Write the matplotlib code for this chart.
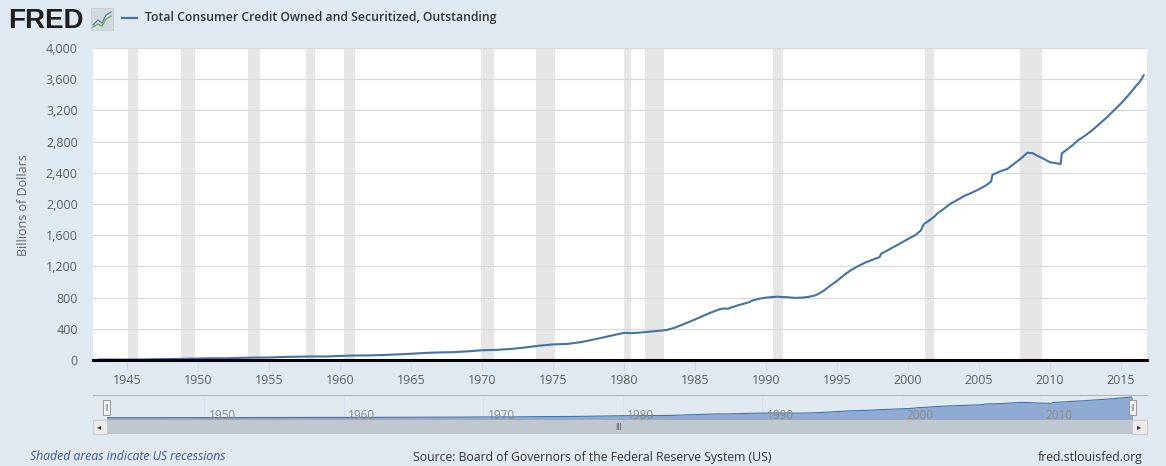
import matplotlib
matplotlib.use("Agg")
import matplotlib.pyplot as plt
from matplotlib.patches import Rectangle
from matplotlib.lines import Line2D
from matplotlib.ticker import FuncFormatter

# decimal year / billions of dollars
years = [1943.0, 1944.0, 1945.0, 1946.0, 1947.0, 1948.0, 1949.0, 1950.0, 1951.0, 1952.0,
         1953.0, 1954.0, 1955.0, 1956.0, 1957.0, 1958.0, 1959.0, 1960.0, 1961.0, 1962.0,
         1963.0, 1964.0, 1965.0, 1966.0, 1967.0, 1968.0, 1969.0, 1970.0, 1971.0, 1972.0,
         1973.0, 1974.0, 1975.0, 1976.0, 1977.0, 1978.0, 1979.0, 1980.0, 1980.5, 1981.0,
         1982.0, 1983.0, 1983.5, 1984.0, 1985.0, 1986.0, 1986.75, 1987.0, 1987.3, 1988.0,
         1988.8, 1989.0, 1989.5, 1990.0, 1990.8, 1991.0, 1991.5, 1992.0, 1992.6, 1993.0,
         1993.5, 1994.0, 1994.5, 1995.0, 1995.5, 1996.0, 1996.5, 1997.0, 1997.5, 1998.0,
         1998.1, 1998.5, 1999.0, 1999.5, 2000.0, 2000.5, 2000.9, 2001.1, 2001.5, 2001.9,
         2002.0, 2002.5, 2003.0, 2003.5, 2004.0, 2004.5, 2005.0, 2005.5, 2005.85, 2005.95,
         2006.2, 2006.5, 2007.0, 2007.5, 2008.0, 2008.4, 2008.8, 2009.0, 2009.5, 2010.0,
         2010.5, 2010.75, 2010.83, 2011.0, 2011.5, 2012.0, 2012.5, 2013.0, 2013.5, 2014.0,
         2014.5, 2015.0, 2015.5, 2016.0, 2016.1, 2016.3, 2016.6]
credit = [6.2, 5.4, 5.7, 6.4, 9.3, 12.5, 15.2, 18.9, 22.4, 22.3,
          27.5, 31.0, 31.6, 38.8, 42.3, 45.4, 45.0, 52.0, 57.5, 58.7,
          64.0, 71.2, 80.0, 90.4, 97.2, 100.6, 111.0, 125.0, 130.0, 141.0,
          160.0, 183.0, 200.0, 206.0, 230.0, 268.0, 308.0, 348.0, 344.0, 350.0,
          366.0, 385.0, 410.0, 445.0, 520.0, 600.0, 652.0, 660.0, 657.0, 700.0,
          740.0, 760.0, 785.0, 800.0, 812.0, 808.0, 805.0, 797.0, 800.0, 810.0,
          830.0, 880.0, 950.0, 1015.0, 1090.0, 1155.0, 1205.0, 1250.0, 1285.0, 1320.0,
          1362.0, 1400.0, 1450.0, 1500.0, 1551.0, 1600.0, 1660.0, 1740.0, 1790.0, 1845.0,
          1870.0, 1935.0, 2005.0, 2055.0, 2107.0, 2145.0, 2190.0, 2240.0, 2288.0, 2375.0,
          2395.0, 2420.0, 2450.0, 2520.0, 2590.0, 2658.0, 2650.0, 2628.0, 2585.0, 2535.0,
          2520.0, 2513.0, 2650.0, 2672.0, 2740.0, 2820.0, 2880.0, 2950.0, 3030.0, 3110.0,
          3200.0, 3290.0, 3390.0, 3500.0, 3525.0, 3560.0, 3650.0]

recessions = [(1945.08, 1945.75), (1948.83, 1949.75), (1953.5, 1954.33), (1957.58, 1958.25),
              (1960.25, 1961.08), (1969.92, 1970.83), (1973.83, 1975.17), (1980.0, 1980.5),
              (1981.5, 1982.83), (1990.5, 1991.17), (2001.17, 2001.83), (2007.92, 2009.42)]

x_ticks = list(range(1945, 2016, 5))
y_ticks = list(range(0, 4001, 400))
nav_ticks = list(range(1950, 2011, 10))

W, H = 1166, 466
BG = "#e1e9f0"
LINE = "#4572a7"

def fx(px):
    return px / W

def fy(py):
    return 1 - py / H

plt.rcParams["font.family"] = ["Open Sans", "DejaVu Sans"]

fig = plt.figure(figsize=(W / 100, H / 100), dpi=100)
fig.patch.set_facecolor(BG)

# main chart
ax = fig.add_axes([fx(93), fy(360), fx(1147 - 93), (360 - 48) / H])
ax.set_facecolor("white")
for a, b in recessions:
    ax.axvspan(a, b, color="#e6e6e6", lw=0, zorder=0)
ax.plot(years, credit, color=LINE, lw=1.5, zorder=3)
ax.axhline(0, color="black", lw=2.2, zorder=4, clip_on=False)
ax.set_xlim(1942.6, 2016.83)
ax.set_ylim(0, 4000)
ax.set_yticks(y_ticks)
ax.yaxis.set_major_formatter(FuncFormatter(lambda v, p: f"{int(v):,}"))
ax.set_xticks(x_ticks)
ax.grid(axis="y", color="#d8d8d8", lw=0.8, zorder=1)
for s in ax.spines.values():
    s.set_visible(False)
ax.tick_params(axis="y", length=0, pad=11, labelsize=9, labelcolor="#606060")
ax.tick_params(axis="x", length=7, width=0.8, color="#ccd6eb", pad=3,
               labelsize=9, labelcolor="#606060")
fig.text(fx(24), fy(205), "Billions of Dollars", rotation=90, ha="center", va="center",
         fontsize=9, color="#666666")

# navigator
nav = fig.add_axes([fx(106.7), fy(419.7), fx(1132 - 106.7), (419.7 - 395.3) / H])
nav.set_facecolor("#c6d6ec")
for t in nav_ticks:
    nav.axvline(t, color="#d6e1f0", lw=0.8, zorder=0)
    nav.text(t + 0.3, -250, str(t), fontsize=8.5, color="#8c8c8c", ha="left",
             va="baseline", zorder=4)
nav.fill_between(years, credit, -400, color="#8fabd3", lw=0, zorder=2)
nav.plot(years, credit, color=LINE, lw=0.8, zorder=3)
nav.set_xlim(1943.0, 2016.5)
nav.set_ylim(-350, 3900)
nav.axis("off")

fig.add_artist(Line2D([fx(92.7), fx(1147)], [fy(395.3), fy(395.3)], color="#b3b3b3", lw=0.8))

# scrollbar
fig.add_artist(Rectangle((fx(106.7), fy(434.3)), fx(1132 - 106.7), (434.3 - 419.7) / H,
                         facecolor="#c1c7cf", edgecolor="none"))
for x0 in (92.7, 1132):
    fig.add_artist(Rectangle((fx(x0), fy(434.3)), fx(14.5), (434.3 - 419.7) / H,
                             facecolor="#ebebeb", edgecolor="#cccccc", lw=0.8))
fig.text(fx(99.5), fy(427), "◂", fontsize=6, color="#333333", ha="center", va="center",
         family="DejaVu Sans")
fig.text(fx(1139.5), fy(427), "▸", fontsize=6, color="#333333", ha="center", va="center",
         family="DejaVu Sans")
fig.text(fx(619), fy(427), "III", fontsize=5.5, color="#555555", ha="center", va="center",
         family="DejaVu Sans")

# navigator handles
for x0 in (102.7, 1128.7):
    fig.add_artist(Rectangle((fx(x0), fy(415)), fx(7.5), (415 - 399.7) / H,
                             facecolor="#f2f2f2", edgecolor="#999999", lw=0.7))
    fig.text(fx(x0 + 3.75), fy(407.5), "||", fontsize=5, color="#777777",
             ha="center", va="center", family="DejaVu Sans")

# header
fig.text(fx(8), fy(28), "FRED", fontsize=20, weight="bold", family="Liberation Sans",
         color="#1e1e1e", va="baseline")
fig.add_artist(Rectangle((fx(91), fy(30)), fx(22), 22 / H, facecolor="#d3dadf",
                         edgecolor="#c4ccd2", lw=0.6))
fig.add_artist(Line2D([fx(93), fx(98), fx(102), fx(106), fx(111)],
                      [fy(25), fy(20), fy(23), fy(15), fy(12)], color="#4f7fb5", lw=0.9))
fig.add_artist(Line2D([fx(93), fx(98), fx(102), fx(106), fx(111)],
                      [fy(27), fy(24), fy(26), fy(19), fy(16)], color="#6aa84f", lw=0.9))
fig.add_artist(Line2D([fx(122), fx(137)], [fy(18), fy(18)], color=LINE, lw=1.6))
fig.text(fx(145), fy(18), "Total Consumer Credit Owned and Securitized, Outstanding",
         fontsize=8.85, weight="semibold", color="#333333", va="center")

# footer
fig.text(fx(30), fy(457), "Shaded areas indicate US recessions", fontsize=8.8,
         style="italic", color="#3a5b98", va="center")
fig.text(fx(592.5), fy(457), "Source: Board of Governors of the Federal Reserve System (US)",
         fontsize=8.8, color="#333333", ha="center", va="center")
fig.text(fx(1143), fy(457), "fred.stlouisfed.org", fontsize=8.8, color="#333333",
         ha="right", va="center")

fig.savefig("out.png", dpi=100, facecolor=BG)
